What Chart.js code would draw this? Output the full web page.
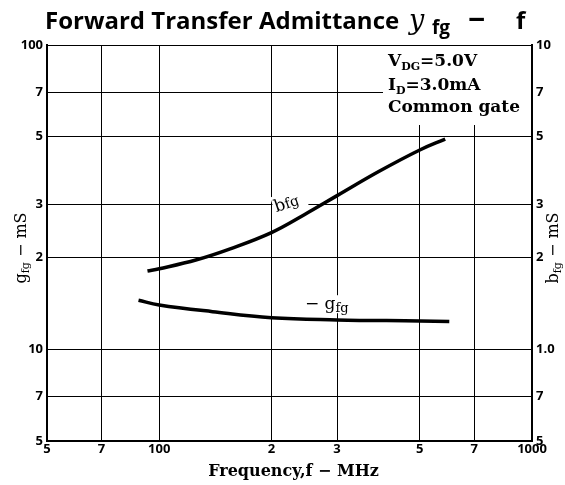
<!DOCTYPE html>
<html>
<head>
<meta charset="utf-8">
<script src="https://cdn.jsdelivr.net/npm/chart.js@4"></script>
<style>
  html, body { margin: 0; padding: 0; background: #fff; }
  canvas { display: block; }
</style>
</head>
<body>
<canvas id="admChart" width="565" height="485"></canvas>
<script>
// curve data (MHz, mS)
const bFreq = [93, 100, 126, 155, 200, 245, 300, 388, 500, 585];
const bValues = [1.81, 1.84, 1.97, 2.14, 2.42, 2.77, 3.2, 3.84, 4.52, 4.91];
const gFreq = [88, 100, 139, 200, 300, 500, 600];
const gValues = [14.5, 14.0, 13.3, 12.7, 12.5, 12.4, 12.35];

const xTicks = [50, 70, 100, 200, 300, 500, 700, 1000];
const xTickLabels = ['5', '7', '100', '2', '3', '5', '7', '1000'];
const gTicks = [5, 7, 10, 20, 30, 50, 70, 100];
const gTickLabels = ['5', '7', '10', '2', '3', '5', '7', '100'];
const bTicks = [0.5, 0.7, 1, 2, 3, 5, 7, 10];
const bTickLabels = ['5', '7', '1.0', '2', '3', '5', '7', '10'];

const SANS = '"Open Sans", "DejaVu Sans", sans-serif';
const SERIF = '"DejaVu Serif", "Liberation Serif", serif';

// draw a run of text pieces (with subscripts) starting at x
function richWidth(ctx, parts) {
    let w = 0;
    parts.forEach(p => { ctx.font = p.font; w += ctx.measureText(p.t).width; });
    return w;
}
function drawRich(ctx, parts, x, y, align) {
    let cx = x;
    if (align === 'center') cx = x - richWidth(ctx, parts) / 2;
    ctx.textBaseline = 'alphabetic';
    ctx.textAlign = 'left';
    parts.forEach(p => {
        ctx.font = p.font;
        ctx.fillText(p.t, cx, y + (p.dy || 0));
        cx += ctx.measureText(p.t).width;
    });
}

const fixedTicks = (values) => (scale) => {
    scale.ticks = values.map(v => ({ value: v }));
};

// where the curve labels go (in data units)
function labelSpots(chart) {
    const xs = chart.scales.x, ys = chart.scales.y;
    return {
        b: { x: xs.getPixelForValue(206), y: ys.getPixelForValue(28.2) },
        g: { x: xs.getPixelForValue(246), y: ys.getPixelForValue(13.55) }
    };
}

const decorations = {
    id: 'decorations',
    beforeDatasetsDraw(chart) {
        const ctx = chart.ctx;
        const a = chart.chartArea;
        const s = labelSpots(chart);
        ctx.save();
        ctx.fillStyle = '#fff';
        // white box behind the conditions text
        ctx.fillRect(a.left + 336, a.top + 1, a.right - a.left - 337, 79);
        // backgrounds behind curve labels
        ctx.save();
        ctx.translate(s.b.x, s.b.y);
        ctx.rotate(-0.33);
        ctx.fillRect(-1, -16, 34, 20);
        ctx.restore();
        ctx.fillRect(s.g.x - 2, s.g.y - 14, 48, 18);
        ctx.restore();
    },
    afterDatasetsDraw(chart) {
        const ctx = chart.ctx;
        const a = chart.chartArea;
        const s = labelSpots(chart);
        ctx.save();
        ctx.fillStyle = '#000';

        // conditions
        const big = 'bold 17px ' + SERIF, sub = 'bold 11px ' + SERIF;
        drawRich(ctx, [{ t: 'V', font: big }, { t: 'DG', font: sub, dy: 4 }, { t: '=5.0V', font: big }], 388, 66);
        drawRich(ctx, [{ t: 'I', font: big }, { t: 'D', font: sub, dy: 4 }, { t: '=3.0mA', font: big }], 388, 90);
        drawRich(ctx, [{ t: 'Common gate', font: big }], 388, 112);

        // curve labels
        ctx.save();
        ctx.translate(s.b.x, s.b.y);
        ctx.rotate(-0.33);
        drawRich(ctx, [{ t: 'b', font: '17px ' + SERIF }, { t: 'fg', font: '14px ' + SERIF }], 0, 0);
        ctx.restore();
        drawRich(ctx, [{ t: '\u2212 g', font: '17px ' + SERIF }, { t: 'fg', font: '13px ' + SERIF, dy: 3 }], s.g.x, s.g.y);

        // title
        ctx.textBaseline = 'alphabetic';
        ctx.textAlign = 'left';
        ctx.font = 'bold 24px ' + SANS;
        ctx.fillText('Forward Transfer Admittance', 45, 29, 356);
        ctx.font = 'italic 27px ' + SERIF;
        ctx.fillText('y', 409, 29);
        ctx.font = 'bold 19px ' + SANS;
        ctx.fillText('fg', 432, 34);
        ctx.font = 'bold 30px ' + SANS;
        ctx.fillText('\u2212', 468, 30);
        ctx.font = 'bold 24px ' + SANS;
        ctx.fillText('f', 516, 29);

        // x axis title
        drawRich(ctx, [{ t: 'Frequency,f \u2212 MHz', font: 'bold 16px ' + SERIF }], (a.left + a.right) / 2 + 4, 476, 'center');

        // y axis titles (rotated)
        const ymid = 248;
        [[20, 'g'], [552, 'b']].forEach(([px, letter]) => {
            ctx.save();
            ctx.translate(px, ymid);
            ctx.rotate(-Math.PI / 2);
            drawRich(ctx, [
                { t: letter, font: '16px ' + SERIF },
                { t: 'fg', font: '11px ' + SERIF, dy: 3 },
                { t: ' \u2212 mS', font: '16px ' + SERIF }
            ], 0, 6, 'center');
            ctx.restore();
        });
        ctx.restore();
    }
};

const tickFont = { family: SANS, size: 13, weight: 'bold' };

new Chart(document.getElementById('admChart').getContext('2d'), {
    type: 'line',
    data: {
        datasets: [{
            label: 'bfg',
            data: bFreq.map((f, i) => ({ x: f, y: bValues[i] })),
            yAxisID: 'y2',
            borderColor: '#000',
            borderWidth: 3.5,
            pointRadius: 0,
            tension: 0.4,
            fill: false
        }, {
            label: '-gfg',
            data: gFreq.map((f, i) => ({ x: f, y: gValues[i] })),
            yAxisID: 'y',
            borderColor: '#000',
            borderWidth: 3.5,
            pointRadius: 0,
            tension: 0.4,
            fill: false
        }]
    },
    options: {
        responsive: false,
        animation: false,
        layout: { padding: { top: 45, left: 0, right: 0, bottom: 0 } },
        plugins: {
            legend: { display: false },
            tooltip: { enabled: false },
            title: { display: false }
        },
        scales: {
            x: {
                type: 'logarithmic',
                min: 50,
                max: 1000,
                afterBuildTicks: fixedTicks(xTicks),
                afterFit: (s) => { s.height = 44; },
                grid: { color: '#000', lineWidth: 1, drawTicks: false },
                border: { color: '#000', width: 2 },
                ticks: {
                    color: '#000', font: tickFont, padding: 0, autoSkip: false, maxRotation: 0,
                    callback: (v, i) => xTickLabels[i]
                }
            },
            y: {
                type: 'logarithmic',
                position: 'left',
                min: 5,
                max: 100,
                afterBuildTicks: fixedTicks(gTicks),
                afterFit: (s) => { s.width = 47; },
                grid: { color: '#000', lineWidth: 1, drawTicks: false },
                border: { color: '#000', width: 2 },
                ticks: {
                    color: '#000', font: tickFont, padding: 4, autoSkip: false,
                    callback: (v, i) => gTickLabels[i]
                }
            },
            y2: {
                type: 'logarithmic',
                position: 'right',
                min: 0.5,
                max: 10,
                afterBuildTicks: fixedTicks(bTicks),
                afterFit: (s) => { s.width = 33; },
                grid: { drawOnChartArea: false, drawTicks: false },
                border: { color: '#000', width: 2 },
                ticks: {
                    color: '#000', font: tickFont, padding: 4, autoSkip: false,
                    callback: (v, i) => bTickLabels[i]
                }
            }
        }
    },
    plugins: [decorations]
});
</script>
</body>
</html>
